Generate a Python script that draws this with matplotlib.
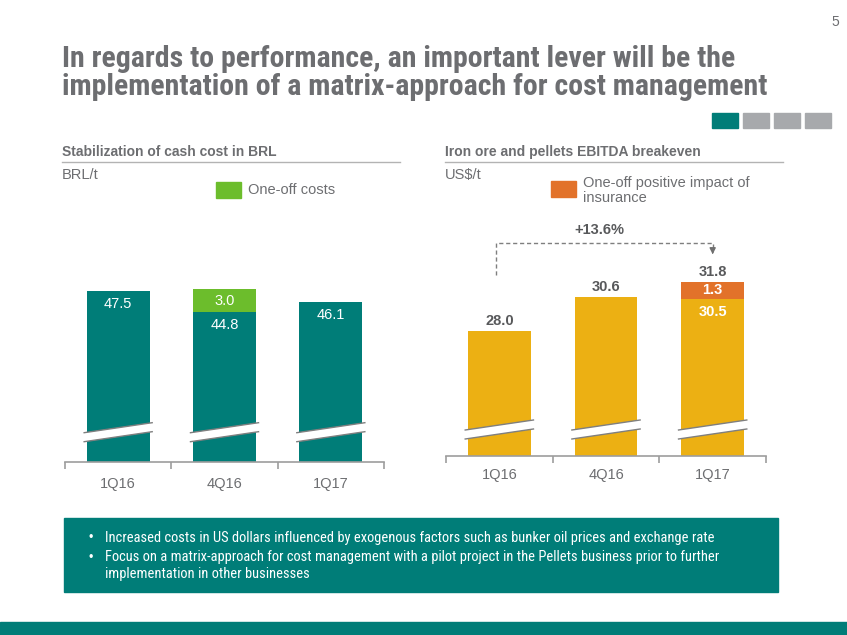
import matplotlib.pyplot as plt
import matplotlib.transforms as mtransforms
from matplotlib import font_manager as fm
from matplotlib.patches import Rectangle, Polygon

# data
quarters = ["1Q16", "4Q16", "1Q17"]
brl_cash_cost = [47.5, 44.8, 46.1]
brl_one_off = [0.0, 3.0, 0.0]
usd_breakeven = [28.0, 30.6, 30.5]
usd_insurance = [0.0, 0.0, 1.3]

title_lines = ["In regards to performance, an important lever will be the",
               "implementation of a matrix-approach for cost management"]
bullets = ["Increased costs in US dollars influenced by exogenous factors such as bunker oil prices and exchange rate",
           "Focus on a matrix-approach for cost management with a pilot project in the Pellets business prior to further\nimplementation in other businesses"]

TEAL = "#007d78"
GREEN = "#6cbd2c"
ORANGE = "#e2722a"
GOLD = "#ecb013"
GRAY = "#6d6e71"
DARK = "#58595b"
LINE = "#b3b3b3"

plt.rcParams["font.family"] = ["Liberation Sans", "DejaVu Sans"]

# pick a narrow face for the title / bullets if one is installed
installed = {(f.name, f.stretch) for f in fm.fontManager.ttflist}
narrow_family, narrow_stretch = "Liberation Sans", "normal"
for name in ["Liberation Sans Narrow", "Arial Narrow", "Roboto Condensed", "DejaVu Sans Condensed"]:
    if any(n == name for n, _ in installed):
        narrow_family = name
        break
else:
    for n, s in installed:
        if n == "DejaVu Sans" and s == "condensed":
            narrow_family, narrow_stretch = n, s
            break

W, H = 847, 635
fig = plt.figure(figsize=(W / 100, H / 100), dpi=100)

# background axes in pixel coords for the slide decorations
bg = fig.add_axes([0, 0, 1, 1])
bg.set_xlim(0, W)
bg.set_ylim(H, 0)
bg.axis("off")


def fit_width(txt, target_px):
    fig.canvas.draw()
    w = txt.get_window_extent().width
    txt.set_fontsize(txt.get_fontsize() * target_px / w)
    return txt.get_fontsize()


bg.text(835, 22, "5", ha="center", va="center", fontsize=10, color=GRAY)
t1 = bg.text(62, 66.7, title_lines[0], ha="left", va="baseline", fontsize=18.5,
             fontweight="bold", color=GRAY, family=narrow_family, stretch=narrow_stretch)
fs = fit_width(t1, 675)
bg.text(62, 95, title_lines[1], ha="left", va="baseline", fontsize=fs,
        fontweight="bold", color=GRAY, family=narrow_family, stretch=narrow_stretch)

for k, c in enumerate([TEAL, "#a7a9ac", "#a7a9ac", "#a7a9ac"]):
    bg.add_patch(Rectangle((712 + k * 31, 112.5), 25.5, 15.5, color=c))

# panel headers
for x0, x1, head, unit in [(62, 400, "Stabilization of cash cost in BRL", "BRL/t"),
                           (445, 783, "Iron ore and pellets EBITDA breakeven", "US$/t")]:
    bg.text(x0, 152, head, ha="left", va="center", fontsize=10, fontweight="bold", color=GRAY)
    bg.plot([x0, x1], [161.7, 161.7], color=LINE, lw=1)
    bg.text(x0, 175, unit, ha="left", va="center", fontsize=10.5, color=GRAY)

bg.add_patch(Rectangle((216, 181.7), 24.5, 16, color=GREEN))
bg.text(248, 189.5, "One-off costs", ha="left", va="center", fontsize=10.5, color=GRAY)
bg.add_patch(Rectangle((551, 180.7), 25, 16, color=ORANGE))
bg.text(583, 190.5, "One-off positive impact of\ninsurance", ha="left", va="center",
        fontsize=10.5, color=GRAY, linespacing=1.05)

# bottom text box
bg.add_patch(Rectangle((64, 518), 714, 74, color=TEAL))
bg.text(90.5, 538.3, "\u2022", ha="center", va="center", fontsize=9, color="white")
b1 = bg.text(105, 538.3, bullets[0], ha="left", va="center", fontsize=10.5, color="white",
             family=narrow_family, stretch=narrow_stretch)
bfs = fit_width(b1, 614)
bg.text(90.5, 557.7, "\u2022", ha="center", va="center", fontsize=9, color="white")
bg.text(105, 550.5, bullets[1], ha="left", va="top", fontsize=bfs, color="white",
        family=narrow_family, stretch=narrow_stretch, linespacing=1.25)
bg.add_patch(Rectangle((0, 622), W, 13, color=TEAL))


def px_axes(x0, x1, y_bottom, y_top):
    return fig.add_axes([x0 / W, (H - y_bottom) / H, (x1 - x0) / W, (y_bottom - y_top) / H])


def style_axis(ax, pad):
    for s in ["top", "right", "left"]:
        ax.spines[s].set_visible(False)
    ax.spines["bottom"].set_color("#9d9d9d")
    ax.spines["bottom"].set_linewidth(1.2)
    ax.set_xlim(-0.5, 2.5)
    ax.set_xticks([-0.5, 0.5, 1.5, 2.5])
    ax.set_xticklabels([])
    ax.tick_params(axis="x", which="major", length=5, color="#9d9d9d", width=1.2)
    ax.set_xticks(range(len(quarters)), minor=True)
    ax.set_xticklabels(quarters, minor=True)
    ax.tick_params(axis="x", which="minor", length=0, pad=pad, labelsize=10.5, labelcolor=GRAY)
    ax.set_yticks([])
    ax.patch.set_alpha(0)


def add_breaks(ax, height_px, low_px):
    tr = mtransforms.blended_transform_factory(ax.transData, ax.transAxes)
    lo = low_px / height_px
    rise = 10 / height_px
    gap = 9 / height_px
    for i in range(len(quarters)):
        xl, xr = i - 0.32, i + 0.32
        ax.add_patch(Polygon([(xl, lo), (xr, lo + rise), (xr, lo + rise + gap), (xl, lo + gap)],
                             closed=True, facecolor="white", edgecolor="none",
                             transform=tr, clip_on=False, zorder=3))
        for off in (0, gap):
            ax.plot([xl, xr], [lo + off, lo + rise + off], color="#7f7f7f", lw=1,
                    transform=tr, clip_on=False, zorder=4)


# left chart: cash cost in BRL
axl = px_axes(65, 384, 462, 200)
axl.set_ylim(25.6, 25.6 + 262 / 7.8)
bw = 0.59
axl.bar(range(3), brl_cash_cost, width=bw, color=TEAL, zorder=2)
axl.bar(range(3), brl_one_off, width=bw, bottom=brl_cash_cost, color=GREEN, zorder=2)
for i, (b, o) in enumerate(zip(brl_cash_cost, brl_one_off)):
    axl.text(i, b - 1.65, f"{b:.1f}", ha="center", va="center", color="white", fontsize=10.5, zorder=5)
    if o > 0:
        axl.text(i, b + o / 2, f"{o:.1f}", ha="center", va="center", color="white", fontsize=10.5, zorder=5)
style_axis(axl, 11)
add_breaks(axl, 262, 20.3)

# right chart: EBITDA breakeven in US$
axr = px_axes(446, 766, 456, 200)
axr.set_ylim(18.4, 18.4 + 256 / 13)
axr.bar(range(3), usd_breakeven, width=bw, color=GOLD, zorder=2)
axr.bar(range(3), usd_insurance, width=bw, bottom=usd_breakeven, color=ORANGE, zorder=2)
totals = [b + o for b, o in zip(usd_breakeven, usd_insurance)]
for i, (b, o, t) in enumerate(zip(usd_breakeven, usd_insurance, totals)):
    axr.text(i, t + 0.77, f"{t:.1f}", ha="center", va="center", color=DARK,
             fontsize=10.5, fontweight="bold", zorder=5)
    if o > 0:
        axr.text(i, b + o / 2, f"{o:.1f}", ha="center", va="center", color="white",
                 fontsize=10.5, fontweight="bold", zorder=5)
        axr.text(i, b - 1.05, f"{b:.1f}", ha="center", va="center", color="white",
                 fontsize=10.5, fontweight="bold", zorder=5)
style_axis(axr, 9)
add_breaks(axr, 256, 17)

# growth bracket 1Q16 -> 1Q17
top = max(totals) + 3.0
axr.plot([-0.035, -0.035, 2.0, 2.0], [top - 2.5, top, top, top - 0.5], color="#7f7f7f",
         lw=1, ls=(0, (3, 2)), clip_on=False)
axr.annotate("", xy=(2.0, top - 1.1), xytext=(2.0, top - 0.45),
             arrowprops=dict(arrowstyle="-|>", color="#6f6f6f", lw=1, mutation_scale=9),
             annotation_clip=False)
growth = (totals[-1] / totals[0] - 1) * 100
axr.text(0.94, top + 1.0, f"+{growth:.1f}%", ha="center", va="center", color=DARK,
         fontsize=10.5, fontweight="bold", clip_on=False)

fig.savefig("out.png", dpi=100)
